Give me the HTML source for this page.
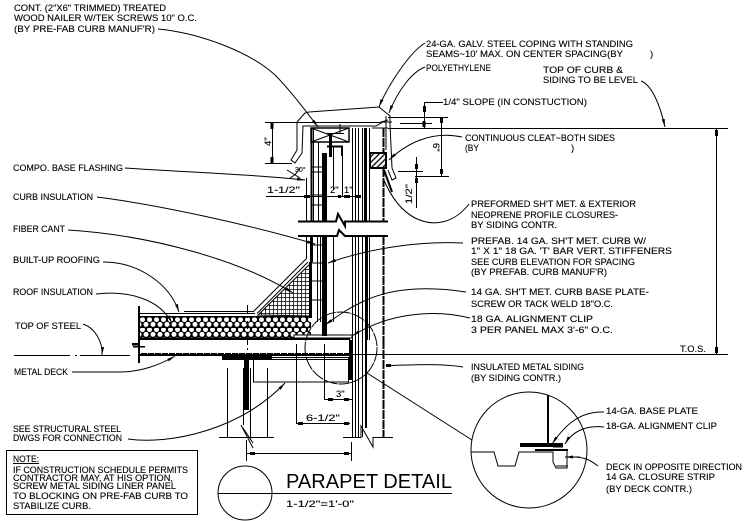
<!DOCTYPE html>
<html><head><meta charset="utf-8"><title>Parapet Detail</title>
<style>
html,body{margin:0;padding:0;background:#fff}
svg{display:block}
text{font-family:"Liberation Sans",sans-serif;font-size:9.5px;fill:#000;stroke:#000;stroke-width:.12}
.l{fill:none;stroke:#000;stroke-width:1}
.h{fill:none;stroke:#000;stroke-width:2}
.k{fill:none;stroke:#000;stroke-width:3}
</style></head><body>
<svg width="747" height="521" viewBox="0 0 747 521" xmlns="http://www.w3.org/2000/svg">
<defs>
<marker id="a" markerWidth="9" markerHeight="6" refX="8" refY="3" orient="auto" markerUnits="userSpaceOnUse"><path d="M0 1.5L8 3L0 4.5Z" fill="#000"/></marker>
<pattern id="ins" width="7" height="10" patternUnits="userSpaceOnUse" x="139" y="317"><rect width="7" height="10" fill="#000"/><circle cx="3.5" cy="2.6" r="2.5" fill="#fff"/><circle cx="0" cy="7.4" r="2.5" fill="#fff"/><circle cx="7" cy="7.4" r="2.5" fill="#fff"/></pattern>
<pattern id="grid" width="4" height="4" patternUnits="userSpaceOnUse" x="1" y="1"><rect width="4" height="4" fill="#fff"/><path d="M0 0H4M0 0V4" stroke="#000" stroke-width="1.5" fill="none"/></pattern>
<pattern id="hat" width="4" height="4" patternUnits="userSpaceOnUse" patternTransform="rotate(-45)"><rect width="4" height="4" fill="#fff"/><path d="M0 1H4" stroke="#000" stroke-width="1.3"/></pattern>
</defs>

<!-- Text -->
<g>
<text x="14" y="11" textLength="152" lengthAdjust="spacingAndGlyphs">CONT. (2"X6" TRIMMED) TREATED</text>
<text x="14" y="21" textLength="183" lengthAdjust="spacingAndGlyphs">WOOD NAILER W/TEK SCREWS 10" O.C.</text>
<text x="14" y="32" textLength="141" lengthAdjust="spacingAndGlyphs">(BY PRE-FAB CURB MANUF'R)</text>
<text x="426" y="47" textLength="207" lengthAdjust="spacingAndGlyphs">24-GA. GALV. STEEL COPING WITH STANDING</text>
<text x="426" y="57" textLength="197" lengthAdjust="spacingAndGlyphs">SEAMS~10' MAX. ON CENTER SPACING(BY</text>
<text x="650" y="57">)</text>
<text x="426" y="71" textLength="65" lengthAdjust="spacingAndGlyphs">POLYETHYLENE</text>
<text x="543" y="73" textLength="80" lengthAdjust="spacingAndGlyphs">TOP OF CURB &amp;</text>
<text x="543" y="83" textLength="95" lengthAdjust="spacingAndGlyphs">SIDING TO BE LEVEL</text>
<text x="443" y="105" textLength="144" lengthAdjust="spacingAndGlyphs">1/4" SLOPE (IN CONSTUCTION)</text>
<text x="465" y="141" textLength="150" lengthAdjust="spacingAndGlyphs">CONTINUOUS CLEAT~BOTH SIDES</text>
<text x="465" y="151" textLength="14" lengthAdjust="spacingAndGlyphs">(BY</text>
<text x="571" y="151">)</text>
<text x="13" y="171" textLength="110" lengthAdjust="spacingAndGlyphs">COMPO. BASE FLASHING</text>
<text x="13" y="200" textLength="80" lengthAdjust="spacingAndGlyphs">CURB INSULATION</text>
<text x="13" y="232" textLength="52" lengthAdjust="spacingAndGlyphs">FIBER CANT</text>
<text x="13" y="263" textLength="87" lengthAdjust="spacingAndGlyphs">BUILT-UP ROOFING</text>
<text x="13" y="295" textLength="80" lengthAdjust="spacingAndGlyphs">ROOF INSULATION</text>
<text x="15" y="329" textLength="66" lengthAdjust="spacingAndGlyphs">TOP OF STEEL</text>
<text x="14" y="375" textLength="54" lengthAdjust="spacingAndGlyphs">METAL DECK</text>
<text x="13" y="432" textLength="108" lengthAdjust="spacingAndGlyphs">SEE STRUCTURAL STEEL</text>
<text x="13" y="441" textLength="109" lengthAdjust="spacingAndGlyphs">DWGS FOR CONNECTION</text>
<text x="13" y="462" textLength="26" lengthAdjust="spacingAndGlyphs" text-decoration="underline">NOTE:</text>
<text x="13" y="473" textLength="175" lengthAdjust="spacingAndGlyphs">IF CONSTRUCTION SCHEDULE PERMITS</text>
<text x="13" y="481" textLength="160" lengthAdjust="spacingAndGlyphs">CONTRACTOR MAY, AT HIS OPTION,</text>
<text x="13" y="489" textLength="163" lengthAdjust="spacingAndGlyphs">SCREW METAL SIDING LINER PANEL</text>
<text x="13" y="499" textLength="175" lengthAdjust="spacingAndGlyphs">TO BLOCKING ON PRE-FAB CURB TO</text>
<text x="13" y="509" textLength="78" lengthAdjust="spacingAndGlyphs">STABILIZE CURB.</text>
<text x="471" y="207" textLength="165" lengthAdjust="spacingAndGlyphs">PREFORMED SH'T MET. &amp; EXTERIOR</text>
<text x="471" y="218" textLength="147" lengthAdjust="spacingAndGlyphs">NEOPRENE PROFILE CLOSURES-</text>
<text x="471" y="228" textLength="86" lengthAdjust="spacingAndGlyphs">BY SIDING CONTR.</text>
<text x="471" y="244" textLength="175" lengthAdjust="spacingAndGlyphs">PREFAB. 14 GA. SH'T MET. CURB W/</text>
<text x="471" y="254" textLength="201" lengthAdjust="spacingAndGlyphs">1" X 1" 18 GA. 'T' BAR VERT. STIFFENERS</text>
<text x="471" y="265" textLength="164" lengthAdjust="spacingAndGlyphs">SEE CURB ELEVATION FOR SPACING</text>
<text x="471" y="275" textLength="136" lengthAdjust="spacingAndGlyphs">(BY PREFAB. CURB MANUF'R)</text>
<text x="471" y="295" textLength="178" lengthAdjust="spacingAndGlyphs">14 GA. SH'T MET. CURB BASE PLATE-</text>
<text x="471" y="307" textLength="142" lengthAdjust="spacingAndGlyphs">SCREW OR TACK WELD 18"O.C.</text>
<text x="471" y="322" textLength="122" lengthAdjust="spacingAndGlyphs">18 GA. ALIGNMENT CLIP</text>
<text x="471" y="333" textLength="142" lengthAdjust="spacingAndGlyphs">3 PER PANEL MAX 3'-6" O.C.</text>
<text x="680" y="352" textLength="26" lengthAdjust="spacingAndGlyphs">T.O.S.</text>
<text x="471" y="370" textLength="113" lengthAdjust="spacingAndGlyphs">INSULATED METAL SIDING</text>
<text x="471" y="381" textLength="90" lengthAdjust="spacingAndGlyphs">(BY SIDING CONTR.)</text>
<text x="606" y="414" textLength="92" lengthAdjust="spacingAndGlyphs">14-GA. BASE PLATE</text>
<text x="606" y="429" textLength="111" lengthAdjust="spacingAndGlyphs">18-GA. ALIGNMENT CLIP</text>
<text x="606" y="470" textLength="136" lengthAdjust="spacingAndGlyphs">DECK IN OPPOSITE DIRECTION</text>
<text x="606" y="480" textLength="109" lengthAdjust="spacingAndGlyphs">14 GA. CLOSURE STRIP</text>
<text x="606" y="492" textLength="86" lengthAdjust="spacingAndGlyphs">(BY DECK CONTR.)</text>
<text x="286" y="488" textLength="166" lengthAdjust="spacingAndGlyphs" style="font-size:20px;stroke-width:0">PARAPET DETAIL</text>
<text x="286" y="507" textLength="68" lengthAdjust="spacingAndGlyphs">1-1/2"=1'-0"</text>
<text x="267" y="193" textLength="33" lengthAdjust="spacingAndGlyphs">1-1/2"</text>
<text x="330" y="193">2"</text>
<text x="344" y="193">1"</text>
<text x="306" y="421" textLength="34" lengthAdjust="spacingAndGlyphs">6-1/2"</text>
<text x="336" y="397">3"</text>
<text x="295" y="172" style="font-size:7px">30°</text>
<text transform="translate(271,146) rotate(-90)">4"</text>
<text transform="translate(433,143) rotate(90)">6"</text>
<text transform="translate(412,204) rotate(-90)" textLength="20" lengthAdjust="spacingAndGlyphs">1/2"</text>
</g>

<!-- Note box, title circle -->
<rect class="l" x="6.5" y="450.5" width="191" height="64"/>
<circle class="l" cx="245" cy="493" r="27"/>
<path class="l" d="M218 493.5H452"/>

<!-- Roof assembly -->
<rect x="139" y="317" width="172" height="21" fill="url(#ins)"/>
<rect x="139" y="327" width="172" height="1" fill="#000"/>
<rect x="139" y="316" width="172" height="1.5" fill="#000"/>
<rect x="139" y="337.500" width="211" height="2.500" fill="#000"/>
<path class="h" d="M139 306V363"/>
<path class="l" d="M139 313.5H255M184 311.5H253M253 312L307 258M257 313.5L308 262"/>
<path d="M258 315L310 264V316Z" fill="url(#grid)" stroke="#000"/>
<rect x="309" y="262" width="3" height="56" fill="#000"/>
<!-- deck -->
<path class="k" d="M139 354.5H350"/>
<path d="M140 353.5H350" stroke="#fff" stroke-width="1" stroke-dasharray="1 6" fill="none"/>
<rect x="222" y="355" width="50" height="5" fill="#000"/>
<path class="l" d="M272 357.5H349M272 359.5H349"/>
<path class="k" d="M350.500 340V380"/>
<rect x="294" y="335" width="58" height="3" fill="#fff" stroke="#000"/>
<rect x="132" y="343" width="7" height="2.500" fill="#000"/>
<rect x="133" y="346" width="12" height="1.500" fill="#000"/>
<path class="l" d="M247.500 305V368" stroke-dasharray="8 3 2 3"/>
<!-- stud -->
<path class="l" d="M227.500 368V437M267.500 368V437M219 437.500H274"/>
<rect x="244" y="358" width="5" height="52" fill="#000"/>
<path class="l" d="M243.500 368V425M250.500 368V440M241 425L253 448M243 428L253 443"/>
<path class="l" d="M253.500 358V382H348.500V358"/>
<!-- Lower wall -->
<path class="l" d="M352.500 340V437M355.500 340V437M358.500 340V437M362.500 340V437M343 437.500H361L361 426L373 447V437.500H393"/>
<rect x="365" y="340" width="2" height="88" fill="#000"/>
<path class="h" d="M383.500 340V437" stroke-dasharray="9 1"/>
<!-- Curb -->
<path class="l" d="M306.500 236V258M317.500 236V322M320.500 236V322M333.500 236V322M352.500 236V340M355.500 236V340M358.500 236V340M362.500 236V340M369.500 236V340"/>
<path class="k" d="M311.500 236V262"/>
<rect x="322" y="236" width="5" height="100" fill="#000"/>
<rect x="365" y="236" width="3" height="104" fill="#000"/>
<path class="h" d="M383.500 236V340" stroke-dasharray="9 1"/>
<path class="l" d="M311 245H322M311 263H322M311 281H322M311 300H322"/>
<!-- Breaks -->
<path class="h" d="M298 236H337L339 230L345 236H388"/>
<path class="h" d="M298 221.500H336L338 214L345 226V221.500H388"/>
<!-- Upper curb -->
<path class="l" d="M306.500 178V221M313.500 128V221M318.500 142V221M333.500 146V190M342.500 146V196M352.500 128V221M355.500 128V221M358.500 128V221M362.500 128V221M369.500 128V221"/>
<path class="h" d="M311.500 128V221"/>
<rect x="322" y="153" width="5" height="68" fill="#000"/>
<rect x="364" y="128" width="3" height="93" fill="#000"/>
<path class="h" d="M383.500 128V221" stroke-dasharray="9 1"/>
<path class="h" d="M327 146.500H342V156"/>
<path class="l" d="M311 167H322M311 172H322M311 195H322M311 205H322"/>
<rect class="h" x="311" y="128" width="38" height="14" fill="#fff" style="stroke-width:1.500"/>
<path class="l" d="M311 128L349 142M311 142L349 128M326 133.500H344M340 124V133"/>
<rect x="329" y="133" width="3" height="24" fill="#000"/>
<!-- Coping -->
<path class="l" d="M297 122L305 113L309 112L379 107L390 116V124L392 168L396 178L392 180L388 170"/>
<path class="l" d="M272 122.500H380L388 120M297 122V150L291 160L295 163L302 153L303 126H376L383 122H392"/>
<path class="l" d="M386 116V150M372 128H388"/>
<!-- Blocking -->
<rect x="370" y="153" width="16" height="15" fill="url(#hat)" stroke="#000" stroke-width="2"/>
<path class="h" d="M384 170L392 192"/>

<!-- Dims -->
<path class="l" d="M265 122.500H300M265 163.500H292M272.500 122V163M266 196.500H360"/>
<path class="l" d="M287 170L300 178M290 178Q296 175 300 168"/>
<path class="l" d="M388 117.500H448M400 123.500H432M424.500 102V128M424 102.500H443M388 128.500H728M441.500 117V176M415 176.500H449M416.500 157V208M398 171.500H423"/>
<path class="l" d="M716.500 128V354"/>
<path class="l" d="M14 355.500H70M75 355.500H77M80 355.500H130M350 354.500H728"/>
<path class="l" d="M296.500 344V424M324.500 344V400M324 399.500H352M296 423.500H350M246.500 440V461M351.500 442V461M246 453.500H351"/>
<g fill="#000">
<rect x="270.500" y="123" width="3" height="6"/><rect x="270.500" y="157" width="3" height="6"/>
<rect x="422.500" y="121" width="3" height="6"/><rect x="423" y="106" width="3" height="6"/>
<rect x="440" y="118" width="3" height="5"/><rect x="440" y="169" width="3" height="5"/>
<rect x="415" y="164" width="3" height="5"/><rect x="415" y="178" width="3" height="5"/>
<rect x="715" y="130" width="3" height="6"/><rect x="715" y="347" width="3" height="6"/>
<rect x="304" y="195" width="6" height="3"/><rect x="344" y="195" width="6" height="3"/><rect x="355" y="195" width="6" height="3"/><rect x="338" y="195" width="3" height="3"/>
<rect x="328" y="398" width="5" height="3"/><rect x="344" y="398" width="5" height="3"/>
<rect x="298" y="422" width="5" height="3"/><rect x="344" y="422" width="5" height="3"/>
<rect x="250" y="452" width="5" height="3"/><rect x="344" y="452" width="5" height="3"/>
<rect x="386" y="364" width="5" height="3"/>
</g>

<!-- Leaders -->
<g class="l">
<path class="l" marker-end="url(#a)" d="M158 29C200 33 250 52 275 75C290 90 305 110 318 127"/>
<path class="l" marker-end="url(#a)" d="M425 43C410 52 388 85 379 107"/>
<path class="l" marker-end="url(#a)" d="M425 67C412 72 398 90 389 113"/>
<path class="l" marker-end="url(#a)" d="M641 81C652 85 660 105 665 127"/>
<path class="l" marker-end="url(#a)" d="M462 137C430 130 405 145 389 160"/>
<path class="l" marker-end="url(#a)" d="M125 168C180 172 250 174 305 180"/>
<path class="l" marker-end="url(#a)" d="M97 197C160 205 250 225 315 244"/>
<path class="l" marker-end="url(#a)" d="M68 230C150 235 240 260 293 293"/>
<path class="l" marker-end="url(#a)" d="M103 262C140 262 170 285 179 312"/>
<path class="l" marker-end="url(#a)" d="M96 294C130 290 160 300 172 323"/>
<path class="l" marker-end="url(#a)" d="M83 324C95 328 103 342 102 355"/>
<path class="l" marker-end="url(#a)" d="M72 372H120C140 372 160 365 175 356"/>
<path class="l" marker-end="url(#a)" d="M128 439C170 445 240 430 285 383"/>
<path class="l" d="M469 204C455 222 435 228 415 218C400 210 390 195 383 178"/>
<path class="l" marker-end="url(#a)" d="M463 243C420 241 370 248 328 263"/>
<path class="l" marker-end="url(#a)" d="M466 292C420 285 385 290 360 303C345 310 335 318 325 325"/>
<path class="l" marker-end="url(#a)" d="M470 318C430 308 385 315 352 336"/>
<path class="l" d="M463 367C440 363 410 365 390 365.500"/>
<circle class="l" cx="341" cy="348" r="36" stroke-dasharray="14 1"/>
<path class="l" d="M367 373L472 440"/>
</g>

<!-- Detail circle -->
<circle class="l" cx="529" cy="450" r="58"/>
<path class="h" d="M548 395V445"/>
<rect x="520" y="443" width="43" height="4" fill="#000"/>
<path class="h" d="M535 450H568"/>
<path class="l" d="M471 452H494L498 466H515L519 452H553V462L556 468H567V449"/>
<path class="l" d="M553 447H563M556 466H568"/>
<path class="l" marker-end="url(#a)" d="M604 412C580 411 565 425 552 444"/>
<path class="l" marker-end="url(#a)" d="M604 427C585 425 572 432 565 444"/>
<path class="l" d="M598 466C590 460 585 457 572 457"/>
<path class="l" marker-end="url(#a)" d="M580 457H565"/>
</svg>
</body></html>
